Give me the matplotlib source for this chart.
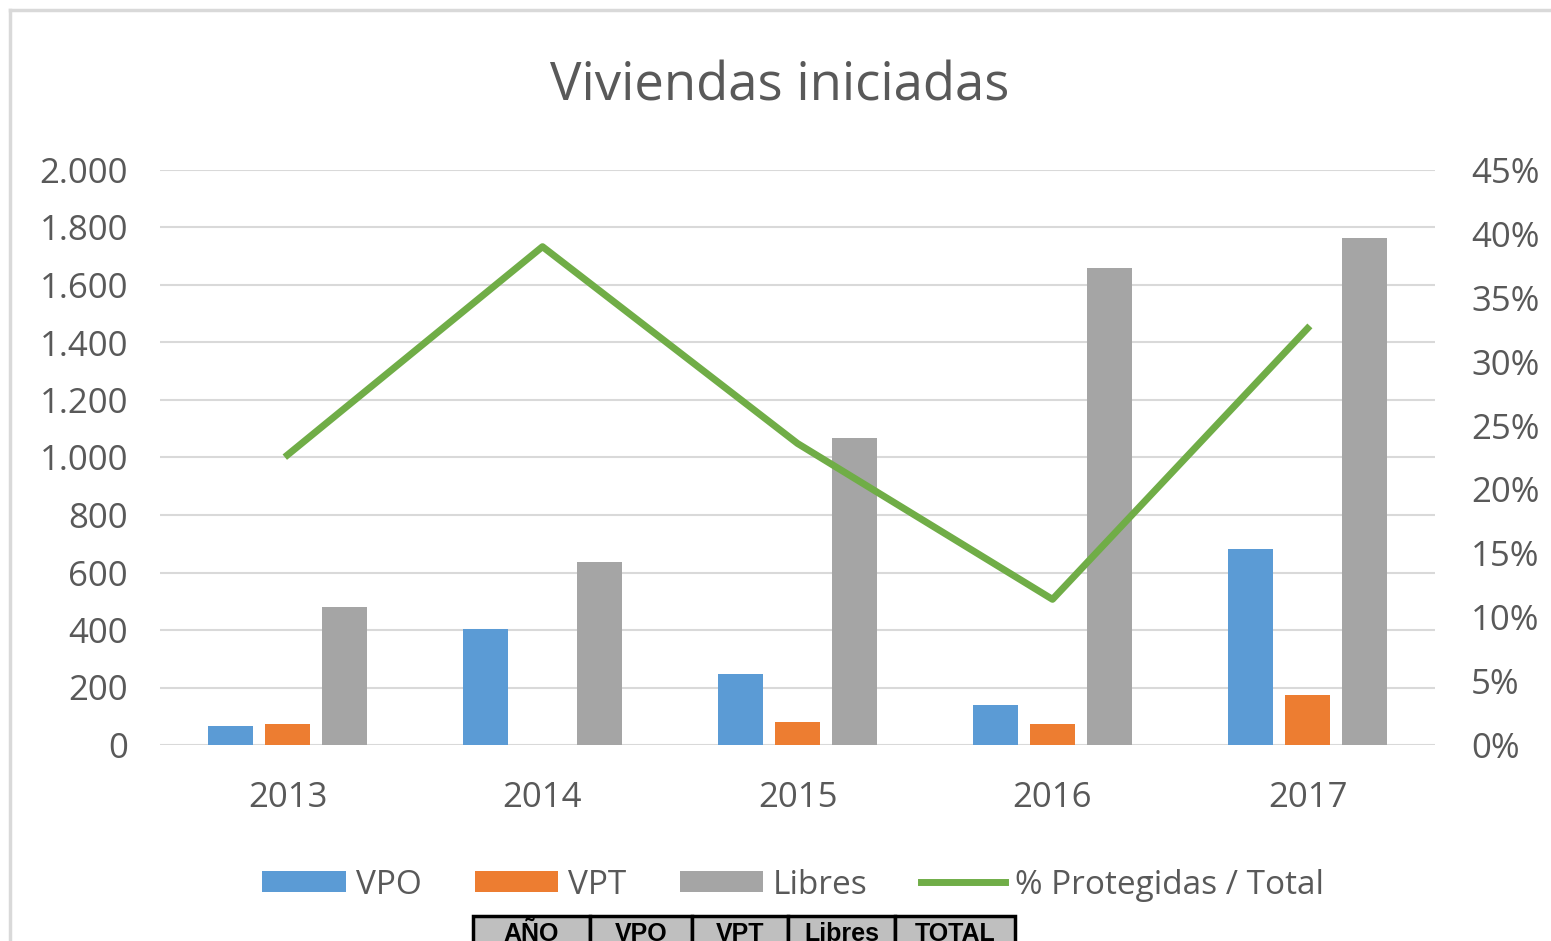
import numpy as np
import matplotlib
matplotlib.use("Agg")
import matplotlib.pyplot as plt
from matplotlib.patches import Rectangle
from matplotlib.lines import Line2D
from matplotlib.ticker import FuncFormatter, MultipleLocator

years = ["2013", "2014", "2015", "2016", "2017"]
vpo = [66, 403, 247, 139, 682]
vpt = [73, 0, 80, 73, 174]
libres = [480, 636, 1068, 1659, 1763]
pct_protegidas = [22.7, 39.0, 23.6, 11.4, 32.6]

table_header = ["AÑO", "VPO", "VPT", "Libres", "TOTAL"]

c_vpo = "#5B9BD5"
c_vpt = "#ED7D31"
c_lib = "#A5A5A5"
c_line = "#70AD47"
txt = "#595959"

plt.rcParams["font.family"] = ["Open Sans", "DejaVu Sans"]

W, H = 1551, 941
fig = plt.figure(figsize=(W / 100, H / 100), dpi=100)
ax = fig.add_axes([160 / W, (H - 745) / H, 1275 / W, 575 / H])

x = np.arange(len(years))
bw = 0.176
off = 0.224
ax.bar(x - off, vpo, bw, color=c_vpo, label="VPO", zorder=3)
ax.bar(x, vpt, bw, color=c_vpt, label="VPT", zorder=3)
ax.bar(x + off, libres, bw, color=c_lib, label="Libres", zorder=3)

ax.set_xlim(-0.5, len(years) - 0.5)
ax.set_ylim(0, 2000)
ax.yaxis.set_major_locator(MultipleLocator(200))
ax.yaxis.set_major_formatter(FuncFormatter(lambda v, p: f"{int(v):,}".replace(",", ".")))
ax.set_xticks(x)
ax.set_xticklabels(years)
ax.grid(axis="y", color="#D9D9D9", linewidth=1.5, zorder=0)
for s in ax.spines.values():
    s.set_visible(False)
ax.tick_params(axis="both", length=0, labelsize=25, labelcolor=txt)
ax.tick_params(axis="y", pad=23)
ax.tick_params(axis="x", pad=26)

ax2 = ax.twinx()
ax2.plot(x, pct_protegidas, color=c_line, linewidth=5, label="% Protegidas / Total", zorder=4)
ax2.set_ylim(0, 45)
ax2.yaxis.set_major_locator(MultipleLocator(5))
ax2.yaxis.set_major_formatter(FuncFormatter(lambda v, p: f"{int(v)}%"))
for s in ax2.spines.values():
    s.set_visible(False)
ax2.tick_params(axis="y", length=0, labelsize=25, labelcolor=txt, pad=26)

fig.text(780 / W, 1 - 87 / H, "Viviendas iniciadas", ha="center", va="center",
         fontsize=38, color=txt)

h1, l1 = ax.get_legend_handles_labels()
h2, l2 = ax2.get_legend_handles_labels()
leg = fig.legend(h1 + h2, l1 + l2, loc="center", bbox_to_anchor=(793 / W, 1 - 885 / H),
                 ncol=4, frameon=False, fontsize=24, handlelength=2.5, handleheight=0.6,
                 handletextpad=0.3, columnspacing=1.6)
for t in leg.get_texts():
    t.set_color(txt)

# partial table below the chart (cut by the screenshot edge)
edges = [473, 590, 692, 788, 895, 1015]
top = 916
for i, name in enumerate(table_header):
    x0, x1 = edges[i], edges[i + 1]
    fig.patches.append(Rectangle((x0 / W, 1 - (top + 40) / H), (x1 - x0) / W, 40 / H,
                                 transform=fig.transFigure, facecolor="#BFBFBF",
                                 edgecolor="black", linewidth=2.5, clip_on=False))
    fig.text((x0 + x1) / 2 / W, 1 - 934 / H, name, ha="center", va="center",
             fontsize=18, fontweight="bold", family="Liberation Sans", color="black")

# frame lines of the screenshot
fig.lines.append(Line2D([10 / W, 1], [1 - 10 / H, 1 - 10 / H], transform=fig.transFigure,
                        color="#D9D9D9", linewidth=2.5))
fig.lines.append(Line2D([10 / W, 10 / W], [0, 1 - 10 / H], transform=fig.transFigure,
                        color="#D9D9D9", linewidth=2.5))

fig.savefig("out.png", dpi=100)
